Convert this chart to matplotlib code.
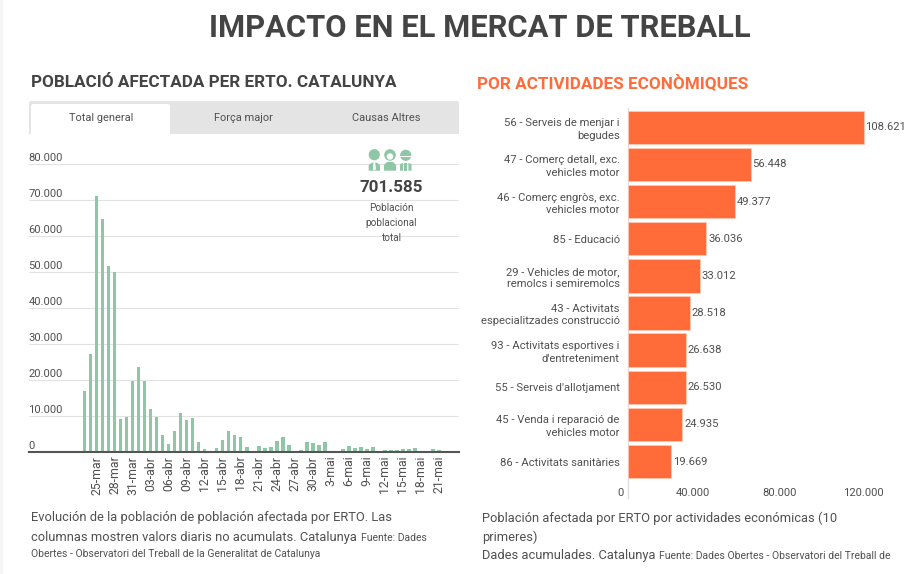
import numpy as np
import matplotlib
matplotlib.use("Agg")
import matplotlib.pyplot as plt
from matplotlib.patches import Rectangle, Circle, FancyBboxPatch, Polygon
from matplotlib.transforms import ScaledTranslation

plt.rcParams['font.family'] = ['Roboto', 'DejaVu Sans']

daily_values = [17000, 27200, 71200, 64800, 51800, 50000, 9350, 9900, 19900,
                23700, 19800, 12000, 9900, 4800, 2300, 5800, 10800, 8900, 9400,
                2800, 1000, 370, 1100, 3400, 5800, 4800, 4200, 1570, 400,
                1800, 1100, 1600, 3100, 4200, 2000, 400, 650, 2800, 2500,
                2000, 2800, 400, 400, 800, 1800, 1200, 1500, 800, 1500,
                300, 550, 550, 550, 800, 800, 1100, 300, 300, 800, 650]
date_labels = ['25-mar', '28-mar', '31-mar', '03-abr', '06-abr', '09-abr', '12-abr',
               '15-abr', '18-abr', '21-abr', '24-abr', '27-abr', '30-abr', '3-mai',
               '6-mai', '9-mai', '12-mai', '15-mai', '18-mai', '21-mai']
y_ticks = [0, 10000, 20000, 30000, 40000, 50000, 60000, 70000, 80000]

sectors = ['56 - Serveis de menjar i\nbegudes',
           '47 - Comerç detall, exc.\nvehicles motor',
           '46 - Comerç engròs, exc.\nvehicles motor',
           '85 - Educació',
           '29 - Vehicles de motor,\nremolcs i semiremolcs',
           '43 - Activitats\nespecialitzades construcció',
           "93 - Activitats esportives i\nd'entreteniment",
           "55 - Serveis d'allotjament",
           '45 - Venda i reparació de\nvehicles motor',
           '86 - Activitats sanitàries']
sector_values = [108621, 56448, 49377, 36036, 33012, 28518, 26638, 26530, 24935, 19669]
x_ticks = [0, 40000, 80000, 120000]

W, H = 920, 574
GREY = '#505050'
DARK = '#444444'
GREEN = '#8fc6a6'
ORANGE = '#ff6b39'
px = 0.72


def dotted(v):
    return f"{v:,}".replace(",", ".")


def box(x0, y0, x1, y1):
    return [x0 / W, 1 - y1 / H, (x1 - x0) / W, (y1 - y0) / H]


fig = plt.figure(figsize=(W / 100, H / 100), dpi=100, facecolor='white')

# left chart
ax = fig.add_axes(box(29, 150, 459, 452.3))
pos = np.arange(len(daily_values))
ax.bar(pos, daily_values, width=0.6, color=GREEN, edgecolor='none', zorder=3)
ax.set_xlim(-9.28, 62.38)
ax.set_ylim(0, 83970)
ax.set_yticks(y_ticks)
ax.set_yticklabels([dotted(v) for v in y_ticks], fontsize=11.3 * px, color=GREY, ha='left')
ax.set_xticks(pos[2::3])
ax.set_xticklabels(date_labels, rotation=90, fontsize=12.3 * px, color=GREY)
ax.tick_params(axis='both', length=0)
ax.tick_params(axis='x', pad=2.4)
ax.tick_params(axis='y', pad=0)
off = ScaledTranslation(-0.5 / 100, 7.5 / 100, fig.dpi_scale_trans)
for lab in ax.get_yticklabels():
    lab.set_transform(lab.get_transform() + off)
ax.grid(axis='y', color='#e2e2e2', linewidth=0.8, zorder=0)
ax.set_axisbelow(True)
for s in ['top', 'left', 'right']:
    ax.spines[s].set_visible(False)
ax.spines['bottom'].set_color('#555555')
ax.spines['bottom'].set_linewidth(1.5)
ax.spines['bottom'].set_zorder(5)

# right chart
ax2 = fig.add_axes(box(628.3, 108, 900, 498))
ypos = np.arange(len(sector_values))
bars = ax2.barh(ypos, sector_values, height=0.9, color=ORANGE, edgecolor='#ffc9b3', linewidth=0.6, zorder=3)
ax2.set_xlim(0, 125320)
ax2.set_ylim(9.98, -0.52)
ax2.set_yticks(ypos)
ax2.set_yticklabels(sectors, fontsize=11.2 * px, color=GREY, linespacing=1.3)
ax2.set_xticks(x_ticks)
ax2.set_xticklabels([dotted(v) for v in x_ticks], fontsize=11.3 * px, color=GREY, ha='right')
ax2.tick_params(axis='both', length=0)
ax2.tick_params(axis='y', pad=6.2)
ax2.tick_params(axis='x', pad=-7.5)
off2 = ScaledTranslation(-5 / 100, 0, fig.dpi_scale_trans)
for lab in ax2.get_xticklabels():
    lab.set_transform(lab.get_transform() + off2)
ax2.bar_label(bars, labels=[dotted(v) for v in sector_values], padding=1.2,
              fontsize=11.2 * px, color=GREY)
for s in ['top', 'bottom', 'right']:
    ax2.spines[s].set_visible(False)
ax2.spines['left'].set_color('#dddddd')
ax2.spines['left'].set_linewidth(0.9)
ax2.patch.set_alpha(0)

# overlay in pixel coordinates
ov = fig.add_axes([0, 0, 1, 1], zorder=10)
ov.set_xlim(0, W)
ov.set_ylim(H, 0)
ov.axis('off')

ov.add_patch(Rectangle((0, 0), 3.5, H, color='#f5f5f5', lw=0))

fig.suptitle('IMPACTO EN EL MERCAT DE TREBALL', x=480 / W, y=1 - 28 / H, va='center',
             fontsize=30.85 * px, fontweight='bold', color=DARK, zorder=20)
ov.text(31, 82.6, 'POBLACIÓ AFECTADA PER ERTO. CATALUNYA', fontsize=17.1 * px, fontweight='bold',
        color=DARK, va='center', ha='left')
ov.text(477, 82.6, 'POR ACTIVIDADES ECONÒMIQUES', fontsize=17.1 * px, fontweight='bold',
        color=ORANGE, va='center', ha='left')

# tabs
ov.add_patch(FancyBboxPatch((29, 101), 430, 20, boxstyle='round,pad=0,rounding_size=2', lw=0, fc='#e4e4e4'))
ov.add_patch(Rectangle((29, 110), 430, 24, lw=0, fc='#e4e4e4'))
ov.add_patch(FancyBboxPatch((31, 104), 139, 20, boxstyle='round,pad=0,rounding_size=2', lw=0, fc='white'))
ov.add_patch(Rectangle((31, 112), 139, 22, lw=0, fc='white'))
for x, t in [(101, 'Total general'), (243.5, 'Força major'), (386.5, 'Causas Altres')]:
    ov.text(x, 118, t, fontsize=11 * px, color=GREY, ha='center', va='center')

# icon
for c, r in [((374.3, 154.7), 5.6), ((390, 155), 5.8), ((405.7, 155.3), 5.6)]:
    ov.add_patch(Circle(c, r, fc=GREEN, lw=0))
ov.add_patch(Polygon([(368.7, 170.7), (368.7, 165), (372, 162.7), (377, 162.7), (380, 165), (380, 170.7)],
                     fc=GREEN, lw=0))
ov.add_patch(Polygon([(373.5, 163), (375.2, 163), (376, 169), (374.3, 170.7), (372.8, 169)], fc='white', lw=0))
ov.add_patch(Circle((390, 156.5), 3.2, fc='white', lw=0))
ov.add_patch(Polygon([(384, 170.7), (384, 165), (387, 162), (393, 162), (396, 165), (396, 170.7)], fc=GREEN, lw=0))
ov.add_patch(Rectangle((399.8, 155.6), 12, 1.2, fc='white', lw=0))
ov.add_patch(Polygon([(400, 170.7), (400, 164), (403, 163), (403, 170.7)], fc=GREEN, lw=0))
ov.add_patch(Polygon([(404.2, 170.7), (404.2, 163), (407.2, 163), (407.2, 170.7)], fc=GREEN, lw=0))
ov.add_patch(Polygon([(408.4, 170.7), (408.4, 163), (411.5, 164), (411.5, 170.7)], fc=GREEN, lw=0))

ov.text(391, 187, '701.585', fontsize=17 * px, fontweight='bold', color=DARK, ha='center', va='center')
for y, t in [(208, 'Población'), (223, 'poblacional'), (238, 'total')]:
    ov.text(391.5, y, t, fontsize=10 * px, color=GREY, ha='center', va='center')

# captions
CAP = 12.85 * px
SMALL = 10.35 * px
ov.text(31, 518, 'Evolución de la población de población afectada por ERTO. Las', fontsize=CAP, color=GREY, va='center')
ov.text(31, 537, 'columnas mostren valors diaris no acumulats. Catalunya', fontsize=CAP, color=GREY, va='center')
ov.text(360.7, 538, 'Fuente: Dades', fontsize=SMALL, color=GREY, va='center')
ov.text(31, 554, 'Obertes - Observatori del Treball de la Generalitat de Catalunya', fontsize=SMALL, color=GREY, va='center')
ov.text(482, 518, 'Población afectada por ERTO por actividades económicas (10', fontsize=CAP, color=GREY, va='center')
ov.text(482, 537, 'primeres)', fontsize=CAP, color=GREY, va='center')
ov.text(482, 555, 'Dades acumulades. Catalunya', fontsize=CAP, color=GREY, va='center')
ov.text(659, 556, 'Fuente: Dades Obertes - Observatori del Treball de', fontsize=SMALL, color=GREY, va='center')

fig.savefig('out.png', dpi=100)
